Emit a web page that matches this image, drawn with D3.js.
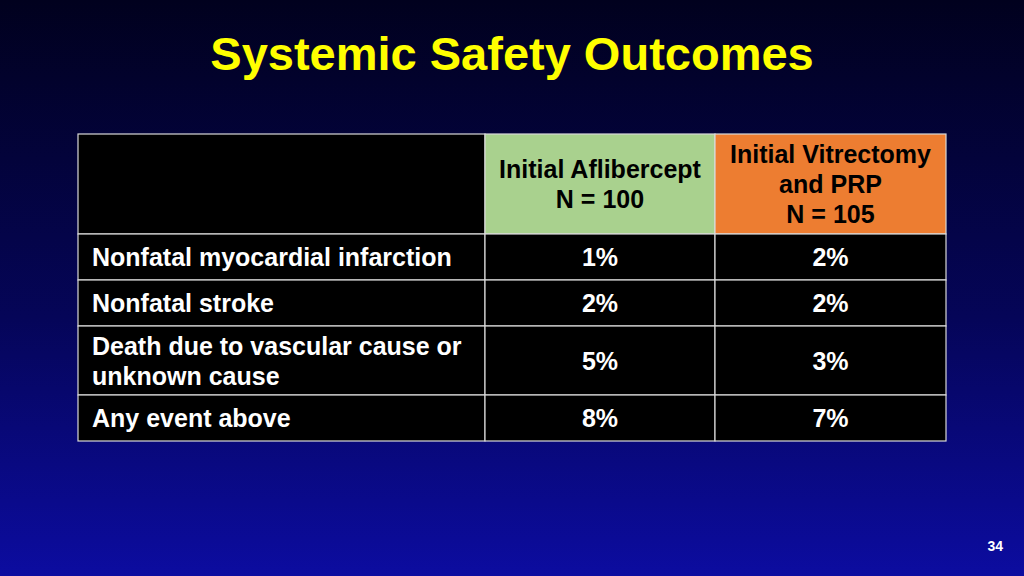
<!DOCTYPE html>
<html><head><meta charset="utf-8">
<script src="https://cdn.jsdelivr.net/npm/d3@7"></script>
<style>body{margin:0;background:#000;}svg{display:block;font-family:"Liberation Sans",Arial,sans-serif;}</style>
</head><body><svg id="c" width="1024" height="576"></svg>
<script>
const title = "Systemic Safety Outcomes";
const headers = [[""], ["Initial Aflibercept","N = 100"], ["Initial Vitrectomy","and PRP","N = 105"]];
const headerFills = ["#000000","#a9d18e","#ed7d31"];
const rowLabels = [["Nonfatal myocardial infarction"],["Nonfatal stroke"],["Death due to vascular cause or","unknown cause"],["Any event above"]];
const aflibercept = ["1%","2%","5%","8%"];
const vitrectomy = ["2%","2%","3%","7%"];
const rowHeights = [100,46,46,69,46];
const colEdges = [78,485,715,946];
const pageNumber = "34";

const svg = d3.select("#c");
const defs = svg.append("defs");
const g = defs.append("linearGradient").attr("id","bg").attr("x1",0).attr("y1",0).attr("x2",0).attr("y2",1);
g.append("stop").attr("offset","0%").attr("stop-color","#01011e");
g.append("stop").attr("offset","55%").attr("stop-color","#050558");
g.append("stop").attr("offset","100%").attr("stop-color","#0c0ca0");
svg.append("rect").attr("width",1024).attr("height",576).attr("fill","url(#bg)");

svg.append("text").attr("x",512).attr("y",70).attr("text-anchor","middle")
  .attr("fill","#ffff00").attr("font-size",47).attr("font-weight","bold").text(title);

const top0 = 134;
const ys = [top0]; rowHeights.forEach(h=>ys.push(ys[ys.length-1]+h));
const rows = [headers.map((h,i)=>({lines:h,fill:headerFills[i],color:"#000"}))];
rowLabels.forEach((l,i)=>rows.push([
  {lines:l,fill:"#000",color:"#fff",left:true},
  {lines:[aflibercept[i]],fill:"#000",color:"#fff"},
  {lines:[vitrectomy[i]],fill:"#000",color:"#fff"}]));
const lh = 30;
rows.forEach((r,ri)=>{
  r.forEach((c,ci)=>{
    const x0=colEdges[ci], x1=colEdges[ci+1], y0=ys[ri], y1=ys[ri+1];
    svg.append("rect").attr("x",x0).attr("y",y0).attr("width",x1-x0).attr("height",y1-y0)
      .attr("fill",c.fill).attr("stroke","#d9d9d9").attr("stroke-width",1.2);
    const cy=(y0+y1)/2, n=c.lines.length;
    c.lines.forEach((t,k)=>{
      svg.append("text").attr("x",c.left?x0+14:(x0+x1)/2)
        .attr("y",cy+(k-(n-1)/2)*lh+9).attr("text-anchor",c.left?"start":"middle")
        .attr("fill",c.color).attr("font-size",25).attr("font-weight","bold").text(t);
    });
  });
});
svg.append("text").attr("x",1003).attr("y",551).attr("text-anchor","end")
  .attr("fill","#fff").attr("font-size",14).attr("font-weight","bold").text(pageNumber);
</script></body></html>
